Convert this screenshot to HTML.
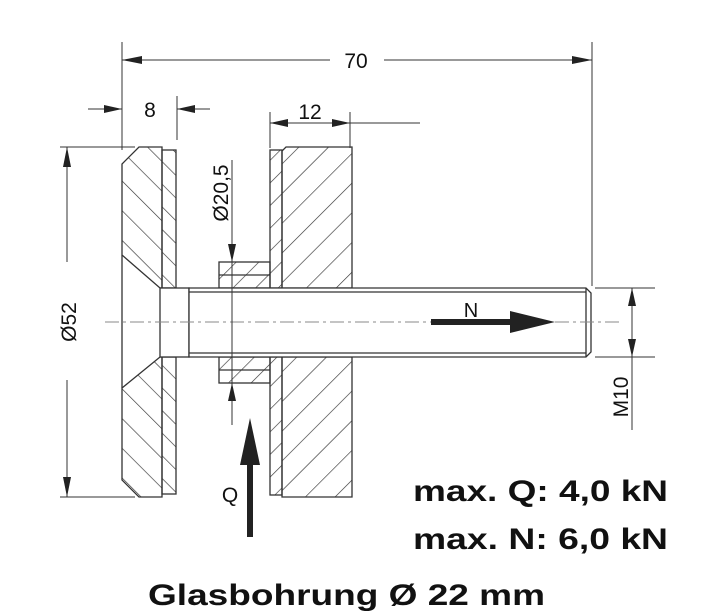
<!DOCTYPE html>
<html><head><meta charset="utf-8"><style>
html,body{margin:0;padding:0;background:#fff;}
svg{display:block;}
</style></head><body>
<svg width="706" height="616" viewBox="0 0 706 616" xmlns="http://www.w3.org/2000/svg" font-family="Liberation Sans, Arial, sans-serif">
<defs>
<pattern id="hb" patternUnits="userSpaceOnUse" width="21" height="21" patternTransform="rotate(-45)">
<line x1="0" y1="0" x2="0" y2="21" stroke="#333" stroke-width="1.3"/></pattern>
<pattern id="hbs" patternUnits="userSpaceOnUse" width="16" height="16" patternTransform="rotate(-45)">
<line x1="0" y1="0" x2="0" y2="16" stroke="#333" stroke-width="1.3"/></pattern>
<pattern id="hf" patternUnits="userSpaceOnUse" width="21" height="21" patternTransform="rotate(45)">
<line x1="0" y1="0" x2="0" y2="21" stroke="#333" stroke-width="1.3"/></pattern>
<pattern id="hfs" patternUnits="userSpaceOnUse" width="16" height="16" patternTransform="rotate(45)">
<line x1="0" y1="0" x2="0" y2="16" stroke="#333" stroke-width="1.3"/></pattern>
</defs>
<g stroke="#333" stroke-width="1.3" fill="none">
<path d="M139,147 L162,147 L162,288 L160,288 L122,255 L122,164 Z" fill="url(#hb)"/>
<path d="M122,388 L160,357 L162,357 L162,497 L139,497 L122,480 Z" fill="url(#hb)"/>
<line x1="122" y1="255" x2="122" y2="388"/>
<rect x="162" y="150" width="14" height="138" fill="url(#hbs)"/>
<rect x="162" y="357" width="14" height="137" fill="url(#hbs)"/>
<rect x="270" y="150" width="12" height="138" fill="url(#hfs)"/>
<rect x="270" y="357" width="12" height="138" fill="url(#hfs)"/>
<path d="M286,147 L352,147 L352,288 L282,288 L282,151 Z" fill="url(#hf)"/>
<path d="M282,357 L352,357 L352,497 L282,497 Z" fill="url(#hf)"/>
<rect x="219" y="262" width="51" height="26" fill="url(#hfs)"/>
<rect x="219" y="357" width="51" height="26" fill="url(#hfs)"/>
<line x1="219" y1="275" x2="270" y2="275"/>
<line x1="219" y1="370" x2="270" y2="370"/>
<rect x="160" y="288" width="29" height="69" fill="#fff"/>
<path d="M189,288 L586,288 L591,293 L591,352 L586,357 L189,357 Z" fill="#fff"/>
<line x1="189" y1="292" x2="586" y2="292"/>
<line x1="189" y1="353" x2="586" y2="353"/>
<line x1="586" y1="288" x2="586" y2="357"/>
</g>
<line x1="105" y1="322" x2="620" y2="322" stroke="#888" stroke-width="1" stroke-dasharray="14,4,3,4"/>
<g stroke="#333" stroke-width="1" fill="none">
<line x1="122" y1="42" x2="122" y2="150"/>
<line x1="592" y1="42" x2="592" y2="286"/>
<line x1="122" y1="60" x2="330" y2="60"/>
<line x1="384" y1="60" x2="592" y2="60"/>
<line x1="177" y1="96" x2="177" y2="140"/>
<line x1="88" y1="109" x2="122" y2="109"/>
<line x1="177" y1="109" x2="210" y2="109"/>
<line x1="270" y1="112" x2="270" y2="148"/>
<line x1="350" y1="112" x2="350" y2="148"/>
<line x1="270" y1="123" x2="420" y2="123"/>
<line x1="60" y1="147" x2="135" y2="147"/>
<line x1="60" y1="497" x2="135" y2="497"/>
<line x1="67" y1="147" x2="67" y2="262"/>
<line x1="67" y1="380" x2="67" y2="497"/>
<line x1="232" y1="160" x2="232" y2="425"/>
<line x1="595" y1="288" x2="655" y2="288"/>
<line x1="595" y1="357" x2="655" y2="357"/>
<line x1="632" y1="288" x2="632" y2="430"/>
</g>
<g fill="#222">
<polygon points="122,60 142,56 142,64"/>
<polygon points="592,60 572,56 572,64"/>
<polygon points="122,109 104,105 104,113"/>
<polygon points="177,109 195,105 195,113"/>
<polygon points="270,123 288,119 288,127"/>
<polygon points="350,123 332,119 332,127"/>
<polygon points="67,147 63,167 71,167"/>
<polygon points="67,497 63,477 71,477"/>
<polygon points="232,262 228,244 236,244"/>
<polygon points="232,383 228,401 236,401"/>
<polygon points="632,288 628,306 636,306"/>
<polygon points="632,357 628,339 636,339"/>
<rect x="431" y="319" width="85" height="6"/>
<polygon points="510,311 555,322 510,333"/>
<rect x="247" y="460" width="6" height="77"/>
<polygon points="240,465 250,418 260,465"/>
</g>
<g fill="#111" font-size="21">
<text x="356" y="68" text-anchor="middle">70</text>
<text x="150" y="117" text-anchor="middle">8</text>
<text x="310" y="119" text-anchor="middle">12</text>
<text x="471" y="317" text-anchor="middle" font-size="20">N</text>
<text x="230" y="502" text-anchor="middle">Q</text>
<text transform="translate(76,322) rotate(-90)" text-anchor="middle">Ø52</text>
<text transform="translate(228,193) rotate(-90)" text-anchor="middle">Ø20,5</text>
<text transform="translate(628,397) rotate(-90)" text-anchor="middle">M10</text>
</g>
<g fill="#111" font-weight="bold" font-size="30">
<text x="413" y="501" textLength="255" lengthAdjust="spacingAndGlyphs">max. Q: 4,0 kN</text>
<text x="413" y="549" textLength="255" lengthAdjust="spacingAndGlyphs">max. N: 6,0 kN</text>
<text x="148" y="605" textLength="397" lengthAdjust="spacingAndGlyphs">Glasbohrung Ø 22 mm</text>
</g>
</svg>
</body></html>
